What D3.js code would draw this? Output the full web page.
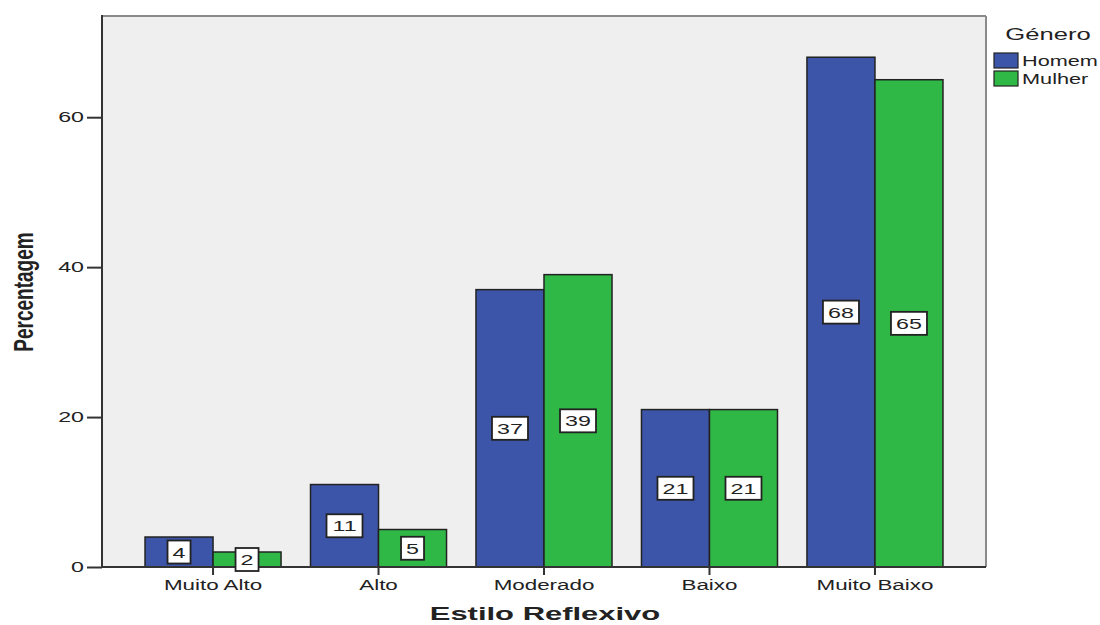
<!DOCTYPE html>
<html><head><meta charset="utf-8">
<script src="https://cdn.jsdelivr.net/npm/d3@7"></script>
<style>body{margin:0;background:#fff;} svg{display:block;} text{font-family:"Liberation Sans",Arial,sans-serif;fill:#222;}</style>
</head><body>
<svg id="c" width="1100" height="625"></svg>
<script>
const categories = ["Muito Alto","Alto","Moderado","Baixo","Muito Baixo"];
const series = ["Homem","Mulher"];
const homem = [4,11,37,21,68];
const mulher = [2,5,39,21,65];
const yTicks = [0,20,40,60];
const colors = ["#3d55a8","#2fb845"];
const values = [homem, mulher];

const svg = d3.select("#c");
const L = 102, R = 986, T = 16, B = 567;
const SX = 1.55;

const y = d3.scaleLinear().domain([0,73.5]).range([B,T]);
const x = d3.scaleBand().domain(categories).range([L,R]).paddingInner(0.178).paddingOuter(0.26);
const xs = d3.scaleBand().domain(series).range([0,x.bandwidth()]);

function txt(g, str, px, py, size, anchor, sx, bold){
  return g.append("text").attr("transform",`translate(${px},${py}) scale(${sx},1)`)
    .attr("text-anchor",anchor).attr("font-size",size).attr("font-weight",bold?"bold":"normal").text(str);
}

// plot background
svg.append("rect").attr("x",L).attr("y",T).attr("width",R-L).attr("height",B-T).attr("fill","#efefef");
svg.append("line").attr("x1",L).attr("x2",R).attr("y1",T).attr("y2",T).attr("stroke","#8a8a8a").attr("stroke-width",2);
svg.append("line").attr("x1",R).attr("x2",R).attr("y1",T).attr("y2",B).attr("stroke","#8a8a8a").attr("stroke-width",2);

// bars
const gb = svg.append("g");
categories.forEach((c,i)=>{
  series.forEach((s,j)=>{
    gb.append("rect").attr("x",x(c)+xs(s)).attr("y",y(values[j][i]))
      .attr("width",xs.bandwidth()).attr("height",y(0)-y(values[j][i]))
      .attr("fill",colors[j]).attr("stroke","#222").attr("stroke-width",1.5);
  });
});

// axes
const ya = svg.append("g").attr("transform",`translate(${L},0)`)
  .call(d3.axisLeft(y).tickValues(yTicks).tickSize(15).tickFormat(""));
ya.select(".domain").remove();
ya.selectAll("line").attr("stroke","#333").attr("stroke-width",2);
svg.append("line").attr("x1",L).attr("x2",L).attr("y1",T-1).attr("y2",B).attr("stroke","#333").attr("stroke-width",2);
svg.append("line").attr("x1",L).attr("x2",R).attr("y1",B).attr("y2",B).attr("stroke","#333").attr("stroke-width",2);
yTicks.forEach(t=>txt(svg, String(t), 84, y(t)+5, 15, "end", SX, false));

const xa = svg.append("g").attr("transform",`translate(0,${B})`)
  .call(d3.axisBottom(x).tickSize(8).tickFormat(""));
xa.select(".domain").remove();
xa.selectAll("line").attr("stroke","#333").attr("stroke-width",2);
categories.forEach(c=>txt(svg, c, x(c)+x.bandwidth()/2, 590, 14, "middle", SX+0.05, false));

// value labels
const gl = svg.append("g");
categories.forEach((c,i)=>{
  series.forEach((s,j)=>{
    const v = values[j][i];
    const cx = x(c)+xs(s)+xs.bandwidth()/2, cy = y(v/2);
    const w = String(v).length>1 ? 36 : 23;
    gl.append("rect").attr("x",cx-w/2).attr("y",cy-11.5).attr("width",w).attr("height",23)
      .attr("fill","#fff").attr("stroke","#222").attr("stroke-width",1.8);
    txt(gl, String(v), cx, cy+5.5, 15, "middle", SX, false);
  });
});

// axis titles
txt(svg, "Estilo Reflexivo", 545, 620, 18, "middle", 1.72, true);
svg.append("text").attr("transform","translate(33,292) rotate(-90) scale(1,1.5)")
  .attr("text-anchor","middle").attr("font-size",19).attr("font-weight","bold").text("Percentagem");

// legend
txt(svg, "Género", 1048, 40, 16, "middle", 1.6, false);
series.forEach((s,j)=>{
  svg.append("rect").attr("x",994).attr("y",53+j*18).attr("width",24).attr("height",15)
    .attr("fill",colors[j]).attr("stroke","#222").attr("stroke-width",1.2);
  txt(svg, s, 1022, 66+j*18, 14, "start", 1.55, false);
});
</script>
</body></html>
